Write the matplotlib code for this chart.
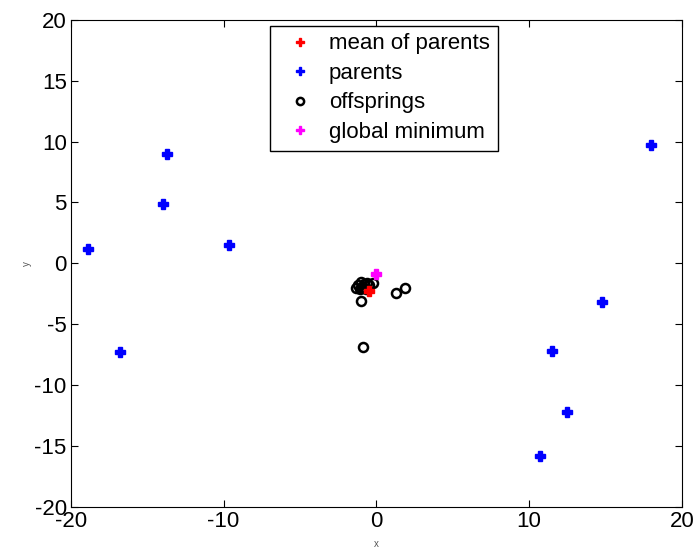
import matplotlib
matplotlib.use("Agg")
import matplotlib.pyplot as plt

plt.rcParams['font.family'] = ['Liberation Sans', 'DejaVu Sans']
plt.rcParams['axes.unicode_minus'] = False

# parents (blue)
par_x = [-18.9, -16.8, -13.7, -14.0, -9.65, 18.0, 14.8, 11.5, 12.5, 10.7]
par_y = [1.2, -7.3, 9.0, 4.9, 1.5, 9.7, -3.2, -7.2, -12.2, -15.8]

# mean of parents (red)
mean_x = [-0.5]
mean_y = [-2.3]

# offsprings (black circles)
off_x = [-1.2, -1.0, -0.8, -1.1, -0.6, -0.9, -1.3, -0.7, -0.5, -1.0,
         -0.2, -1.0, 1.3, 1.9, -0.9]
off_y = [-1.8, -2.0, -1.7, -2.1, -1.6, -1.9, -2.0, -2.1, -1.8, -1.5,
         -1.6, -3.05, -2.45, -2.0, -6.9]

# global minimum (magenta)
gm_x = [0.0]
gm_y = [-0.9]

fig = plt.figure(figsize=(6.95, 5.51), dpi=100)
ax = fig.add_axes([0.102, 0.080, 0.879, 0.884])

ax.plot(mean_x, mean_y, 'P', color='red', markersize=6.5, label='mean of parents', zorder=4)
ax.plot(par_x, par_y, 'P', color='blue', markersize=6.5, label='parents', zorder=3)
ax.plot(off_x, off_y, 'o', markerfacecolor='none', markeredgecolor='black',
        markeredgewidth=1.8, markersize=6.5, label='offsprings', zorder=2)
ax.plot(gm_x, gm_y, 'P', color='magenta', markersize=6.5, label='global minimum', zorder=5)

ax.set_xlim(-20, 20)
ax.set_ylim(-20, 20)
ax.set_xticks([-20, -10, 0, 10, 20])
ax.set_yticks(range(-20, 21, 5))
ax.tick_params(direction='in', labelsize=16, length=5, width=0.8, top=True, right=True, pad=3)
ax.set_xlabel('x', fontsize=7, color='#555555', labelpad=5)
ax.set_ylabel('y', fontsize=7, color='#555555', labelpad=2)

leg = ax.legend(loc='upper left', bbox_to_anchor=(0.326, 0.988), fontsize=16,
                fancybox=False, edgecolor='black', framealpha=1, borderaxespad=0,
                handlelength=2.0, handletextpad=0.3, borderpad=0.35, labelspacing=0.38,
                markerscale=0.8)
leg.get_frame().set_linewidth(1.0)

fig.savefig('out.png', dpi=100)
